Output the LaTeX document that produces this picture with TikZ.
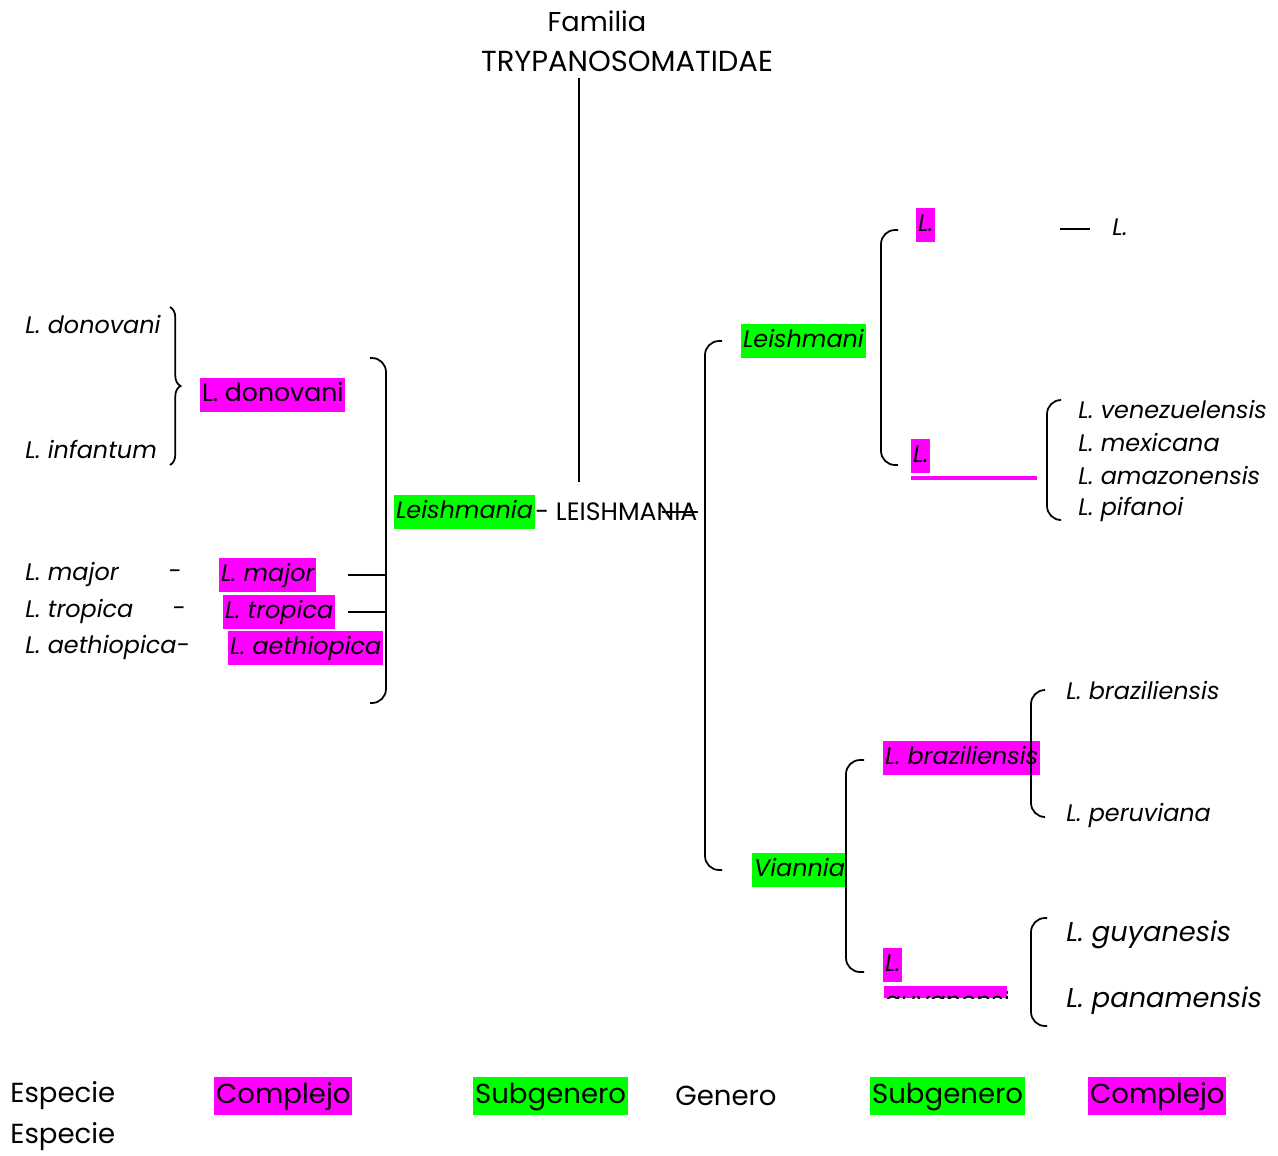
\documentclass[tikz,border=0pt]{standalone}
\usepackage{fontspec}
\setmainfont{Poppins}
\usepackage{tikz}
\usetikzlibrary{calc,positioning,decorations.pathreplacing}

\definecolor{mag}{HTML}{FF00FF}
\definecolor{grn}{HTML}{00FF00}

\begin{document}
\begin{tikzpicture}[
    x=0.02cm, y=-0.02cm,
    txt/.style={inner sep=0pt, anchor=west, font=\fontsize{14.3}{17}\selectfont},
    sp/.style={txt, font=\fontsize{13.6}{16}\selectfont\itshape},
    big/.style={txt, font=\fontsize{15.5}{18}\selectfont\itshape},
    hl/.style={inner xsep=1pt, inner ysep=2.5pt, text height=10.5pt, text depth=3.5pt},
    cx/.style={hl, fill=mag},
    sg/.style={hl, fill=grn},
    leg/.style={inner sep=0pt, anchor=west, font=\fontsize{15.7}{18}\selectfont},
    lg/.style={leg, inner xsep=1pt, inner ysep=3pt, text height=12pt, text depth=4pt},
    brk/.style={line width=1pt, rounded corners=8pt},
    ln/.style={line width=1pt}
]
    \useasboundingbox (0,0) rectangle (1278,1156);

    % familia
    \node[font=\fontsize{15.5}{18}\selectfont] (fam) at (597,21) {Familia};
    \node[font=\fontsize{16.5}{19}\selectfont] (tryp) at (627,61) {TRYPANOSOMATIDAE};
    \coordinate (stemtop) at (579,78);
    \coordinate (stembot) at (579,482);
    \draw[ln] (stemtop) -- (stembot);

    % genero
    \node[sp, sg] (subg) at (394,512) {Leishmania};
    \node[txt, right=0pt of subg] (genus) {- LEISHMANIA};
    \draw[ln] ($(genus.east)+(-36,0)$) -- (genus.east);

    % lado izquierdo
    \node[sp] (don) at (25,325) {L. donovani};
    \node[sp] (inf) at (25,449) {L. infantum};
    \draw[ln, decorate, decoration={brace, amplitude=6pt}] (170,307) -- (170,465);
    \node[txt, cx] (cdon) at (200,395) {L. donovani};

    \node[sp] (maj) at (25,575) {L. major};
    \node[sp] (dmaj) at (168,575) {-};
    \node[sp] (tro) at (25,612) {L. tropica};
    \node[sp] (dtro) at (172,612) {-};
    \node[sp] (aet) at (25,648) {L. aethiopica-};
    \node[sp, cx] (cmaj) at (219,575) {L. major};
    \node[sp, cx] (ctro) at (223,612) {L. tropica};
    \node[sp, cx] (caet) at (228,648) {L. aethiopica};

    \draw[brk] (370,358) -- (386,358) -- (386,703) -- (370,703);
    \draw[ln] (348,575) -- (386,575);
    \draw[ln] (348,612) -- (386,612);

    % subgeneros
    \node[sp, sg] (leish) at (741,341) {Leishmani};
    \node[sp, sg] (vian) at (752,870) {Viannia};
    \draw[brk] (722,341) -- (705,341) -- (705,870) -- (722,870);

    % complejos Leishmania
    \node[sp, cx] (cl1) at (916,225) {L.};
    \node[sp] (lt) at (1112,227) {L.};
    \draw[ln] ($(lt.west)+(-52,2)$) -- ($(lt.west)+(-22,2)$);
    \node[sp, cx] (cl2) at (911,456) {L.};
    \fill[mag] (911,476) rectangle (1037,480);
    \draw[brk] (898,230) -- (881,230) -- (881,465) -- (898,465);

    \node[sp] (ven) at (1078,410) {L. venezuelensis};
    \node[sp] (mex) at (1078,443) {L. mexicana};
    \node[sp] (ama) at (1078,476) {L. amazonensis};
    \node[sp] (pif) at (1078,509) {L. pifanoi};
    \draw[brk] (1060,400) -- (1047,400) -- (1047,520) -- (1060,520);

    % complejos Viannia
    \node[sp, cx] (cbra) at (883,758) {L. braziliensis};
    \node[sp, cx] (cguy) at (883,965) {L.};
    \begin{scope}
        \clip (884,986) rectangle (1007,998);
        \fill[mag] (884,986) rectangle (1007,998);
        \node[sp, anchor=north west] (guyc) at (884,991) {guyanensis};
    \end{scope}
    \draw[brk] (864,760) -- (846,760) -- (846,972) -- (864,972);

    \node[sp] (bra) at (1066,691) {L. braziliensis};
    \node[sp] (per) at (1066,816) {L. peruviana};
    \draw[brk] (1045,690) -- (1031,690) -- (1031,817) -- (1045,817);

    \node[big] (guy) at (1066,935) {L. guyanesis};
    \node[big] (pan) at (1066,1001) {L. panamensis};
    \draw[brk] (1047,918) -- (1031,918) -- (1031,1026) -- (1047,1026);

    % leyenda
    \node[leg] (esp1) at (10,1096) {Especie};
    \node[leg] (esp2) at (10,1137) {Especie};
    \node[lg, fill=mag] (lcx1) at (214,1096) {Complejo};
    \node[lg, fill=grn] (lsg1) at (473,1096) {Subgenero};
    \node[leg] (lgen) at (675,1096) {Genero};
    \node[lg, fill=grn] (lsg2) at (870,1096) {Subgenero};
    \node[lg, fill=mag] (lcx2) at (1088,1096) {Complejo};
\end{tikzpicture}
\end{document}
